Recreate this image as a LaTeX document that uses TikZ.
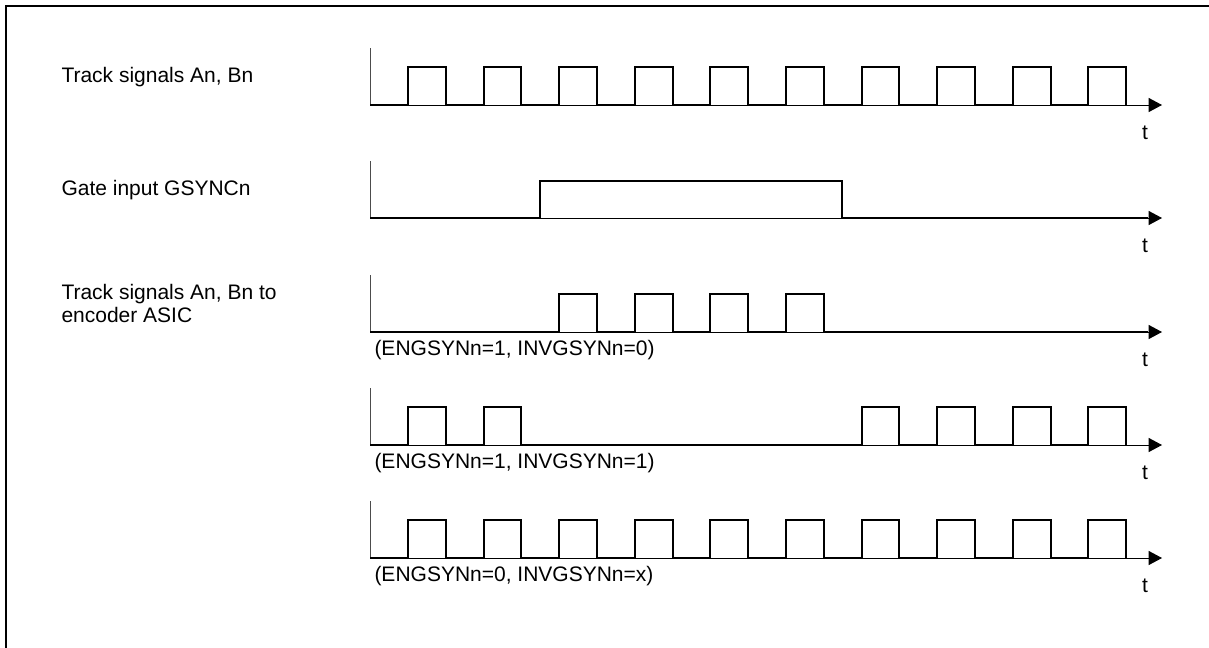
\documentclass[tikz,border=0pt]{standalone}
\usepackage{fontspec}
\setmainfont{Liberation Sans}
\usetikzlibrary{arrows.meta}

\tikzset{every picture/.style={line width=0.75pt}}
\tikzset{
  frameline/.style={line width=1.5pt},
  axisline/.style={line width=0.75pt,-{Triangle[length=10pt,width=10.5pt]}},
  tickline/.style={line width=0.75pt,black!70},
  signal/.style={line width=1.5pt,line join=miter},
  lbl/.style={anchor=west,inner sep=0.75pt,font=\fontsize{15.75}{17.25}\selectfont,align=left},
  tlbl/.style={inner sep=0.75pt,font=\fontsize{15.75}{17.25}\selectfont}
}

\begin{document}
\begin{tikzpicture}[x=0.75pt,y=0.75pt,yscale=-1,xscale=1]
		\useasboundingbox (0,0) rectangle (1209,647);
		
		%Shape: Frame
		\draw [frameline]  (6,650) -- (6,6) -- (1212,6) ;
		
		%Axes
		\coordinate (o1) at (370,105);  \coordinate (e1) at (1162,105);
		\coordinate (o2) at (370,218);  \coordinate (e2) at (1162,218);
		\coordinate (o3) at (370,332);  \coordinate (e3) at (1162,332);
		\coordinate (o4) at (370,445);  \coordinate (e4) at (1162,445);
		\coordinate (o5) at (370,558);  \coordinate (e5) at (1162,558);
		\draw [axisline]  (o1) -- (e1) ;
		\draw [axisline]  (o2) -- (e2) ;
		\draw [axisline]  (o3) -- (e3) ;
		\draw [axisline]  (o4) -- (e4) ;
		\draw [axisline]  (o5) -- (e5) ;
		\draw [tickline]  (o1) -- ++(0,-57) ;
		\draw [tickline]  (o2) -- ++(0,-57) ;
		\draw [tickline]  (o3) -- ++(0,-57) ;
		\draw [tickline]  (o4) -- ++(0,-57) ;
		\draw [tickline]  (o5) -- ++(0,-57) ;
		
		%Shape: Track signals
		\draw [signal]  (370,105) -- (408,105) -- (408,67) -- (446,67) -- (446,105) -- (484,105) -- (484,67) -- (521,67) -- (521,105) -- (559,105) -- (559,67) -- (597,67) -- (597,105) -- (635,105) -- (635,67) -- (673,67) -- (673,105) -- (710,105) -- (710,67) -- (748,67) -- (748,105) -- (786,105) -- (786,67) -- (824,67) -- (824,105) -- (862,105) -- (862,67) -- (899,67) -- (899,105) -- (937,105) -- (937,67) -- (975,67) -- (975,105) -- (1013,105) -- (1013,67) -- (1051,67) -- (1051,105) -- (1088,105) -- (1088,67) -- (1126,67) -- (1126,105) ;
		%Shape: Gate
		\draw [signal]  (370,218) -- (540,218) -- (540,181) -- (842,181) -- (842,218) -- (1148,218) ;
		%Shape: Gated, INVGSYNn=0
		\draw [signal]  (370,332) -- (559,332) -- (559,294) -- (597,294) -- (597,332) -- (635,332) -- (635,294) -- (673,294) -- (673,332) -- (710,332) -- (710,294) -- (748,294) -- (748,332) -- (786,332) -- (786,294) -- (824,294) -- (824,332) -- (1148,332) ;
		%Shape: Gated, INVGSYNn=1
		\draw [signal]  (370,445) -- (408,445) -- (408,407) -- (446,407) -- (446,445) -- (484,445) -- (484,407) -- (521,407) -- (521,445) -- (862,445) -- (862,407) -- (899,407) -- (899,445) -- (937,445) -- (937,407) -- (975,407) -- (975,445) -- (1013,445) -- (1013,407) -- (1051,407) -- (1051,445) -- (1088,445) -- (1088,407) -- (1126,407) -- (1126,445) ;
		%Shape: Not gated
		\draw [signal]  (370,558) -- (408,558) -- (408,520) -- (446,520) -- (446,558) -- (484,558) -- (484,520) -- (521,520) -- (521,558) -- (559,558) -- (559,520) -- (597,520) -- (597,558) -- (635,558) -- (635,520) -- (673,520) -- (673,558) -- (710,558) -- (710,520) -- (748,520) -- (748,558) -- (786,558) -- (786,520) -- (824,520) -- (824,558) -- (862,558) -- (862,520) -- (899,520) -- (899,558) -- (937,558) -- (937,520) -- (975,520) -- (975,558) -- (1013,558) -- (1013,520) -- (1051,520) -- (1051,558) -- (1088,558) -- (1088,520) -- (1126,520) -- (1126,558) ;
		
		\draw (60,77) node [lbl] (track)  {Track signals An, Bn};
		\draw (60,190) node [lbl] (gate)  {Gate input GSYNCn};
		\draw (60,303.5) node [lbl] (asic)  {Track signals An, Bn to\\encoder ASIC};
		\draw (373,350) node [lbl] (mode1)  {(ENGSYNn=1, INVGSYNn=0)};
		\draw (373,463) node [lbl] (mode2)  {(ENGSYNn=1, INVGSYNn=1)};
		\draw (373,576) node [lbl] (mode3)  {(ENGSYNn=0, INVGSYNn=x)};
		\draw (1145,133) node [tlbl] (t1)  {t};
		\draw (1145,246) node [tlbl] (t2)  {t};
		\draw (1145,360) node [tlbl] (t3)  {t};
		\draw (1145,473) node [tlbl] (t4)  {t};
		\draw (1145,586) node [tlbl] (t5)  {t};
		
	\end{tikzpicture}
\end{document}
